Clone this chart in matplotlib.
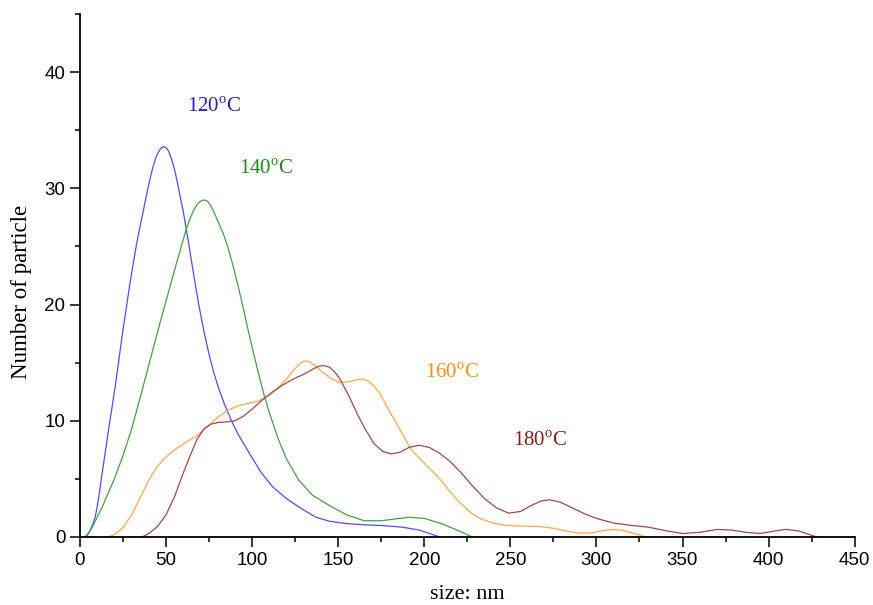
import matplotlib
matplotlib.use("Agg")
import matplotlib.pyplot as plt
from matplotlib.ticker import MultipleLocator

# Particle size distributions for four synthesis temperatures
size_120 = [3, 4.5, 6, 7.5, 9, 11, 13, 15, 17, 19, 21, 23, 25, 27, 29, 31, 33, 35, 37, 39, 41,
            42.5, 44, 45.5, 47, 48.5, 50, 51.5, 53, 55, 57, 60, 63, 66, 69, 72, 75, 78, 81, 84,
            88, 92, 98, 105, 112, 120, 128, 137, 145, 155, 165, 176, 187, 197, 203, 209]
count_120 = [0, 0.2, 0.6, 1.1, 1.8, 3.5, 5.6, 7.6, 9.6, 11.5, 13.5, 15.7, 17.8, 19.8, 21.8, 23.6,
             25.3, 26.8, 28.2, 29.7, 31.0, 31.9, 32.6, 33.1, 33.45, 33.6, 33.5, 33.2, 32.6, 31.6,
             30.2, 28.0, 25.4, 22.6, 20.0, 17.7, 15.7, 14.0, 12.6, 11.4, 10.0, 8.8, 7.3, 5.6, 4.3,
             3.3, 2.5, 1.7, 1.35, 1.15, 1.05, 0.98, 0.85, 0.6, 0.3, 0]

size_140 = [3, 5, 7, 9, 11, 13, 15, 20, 25, 30, 35, 40, 45, 50, 55, 60, 62, 64, 66, 68, 70, 72,
            74, 76, 78, 80, 83, 86, 89, 92, 95, 98, 101, 104, 107, 110, 115, 120, 127, 135, 145,
            155, 165, 175, 183, 191, 200, 210, 219, 228]
count_140 = [0, 0.35, 0.8, 1.4, 2.0, 2.6, 3.3, 5.0, 7.0, 9.3, 12.0, 14.8, 17.6, 20.3, 23.0, 25.6,
             26.6, 27.4, 28.1, 28.6, 28.9, 29.0, 28.9, 28.5, 27.9, 27.2, 26.2, 24.9, 23.3, 21.5,
             19.6, 17.6, 15.7, 13.9, 12.2, 10.7, 8.5, 6.7, 4.9, 3.6, 2.7, 1.9, 1.4, 1.4, 1.55, 1.7,
             1.6, 1.15, 0.6, 0]

size_160 = [16, 20, 25, 30, 35, 40, 45, 50, 56, 62, 68, 74, 80, 86, 92, 98, 104, 110, 115, 120, 125,
            128, 130.5, 133, 136, 140, 146, 151, 156, 161, 164, 167, 170, 174, 178, 183, 188, 192,
            197, 203, 209, 215, 221, 227, 233, 240, 247, 255, 267, 275, 283, 290, 297, 304, 310,
            316, 322, 329]
count_160 = [0, 0.2, 0.8, 1.9, 3.4, 4.9, 6.1, 6.9, 7.6, 8.2, 8.7, 9.5, 10.3, 10.9, 11.3, 11.5, 11.7,
             12.2, 12.8, 13.6, 14.5, 14.95, 15.15, 15.1, 14.8, 14.3, 13.6, 13.3, 13.35, 13.55,
             13.6, 13.45, 13.1, 12.4, 11.3, 10.0, 8.7, 7.6, 6.8, 5.9, 5.0, 3.9, 2.9, 2.1, 1.55,
             1.2, 1.0, 0.95, 0.9, 0.75, 0.5, 0.32, 0.35, 0.55, 0.65, 0.55, 0.3, 0]

size_180 = [36, 40, 45, 50, 55, 60, 64, 68, 72, 76, 80, 85, 90, 95, 100, 106, 112, 118, 124, 130,
            136, 139, 142, 145, 148, 151, 156, 161, 166, 171, 176, 181, 186, 191, 197, 203, 209,
            215, 221, 228, 235, 242, 249, 256, 262, 268, 273, 279, 286, 293, 300, 310, 320, 330,
            340, 350, 360, 370, 378, 387, 395, 403, 410, 418, 428]
count_180 = [0, 0.3, 0.9, 1.9, 3.5, 5.5, 7.0, 8.4, 9.3, 9.7, 9.85, 9.9, 10.0, 10.4, 11.0, 11.8, 12.5,
             13.1, 13.6, 14.0, 14.5, 14.7, 14.75, 14.6, 14.2, 13.6, 12.2, 10.6, 9.2, 8.0, 7.35,
             7.15, 7.3, 7.7, 7.9, 7.7, 7.2, 6.5, 5.6, 4.4, 3.3, 2.5, 2.05, 2.2, 2.7, 3.1, 3.2, 3.0,
             2.5, 2.0, 1.6, 1.2, 1.0, 0.85, 0.55, 0.3, 0.4, 0.65, 0.6, 0.4, 0.3, 0.5, 0.66, 0.5, 0]

series = [
    (size_120, count_120, "#4d4dff", "#2222aa", "120", 78, 37.0),
    (size_140, count_140, "#44a044", "#1e8a1e", "140", 108, 31.6),
    (size_160, count_160, "#ffa54a", "#ff8a1c", "160", 216, 14.1),
    (size_180, count_180, "#a04848", "#8b1a1a", "180", 267, 8.2),
]

plt.rcParams["mathtext.fontset"] = "custom"
plt.rcParams["mathtext.rm"] = "Liberation Serif"

fig = plt.figure(figsize=(8.73, 6.05), dpi=100)
ax = fig.add_axes([0.0916, 0.1124, 0.8874, 0.8645])

for x, y, line_color, text_color, temp, tx, ty in series:
    ax.plot(x, y, color=line_color, lw=0.9, solid_joinstyle="round")
    ax.text(tx, ty, temp + r"$^{\rm o}$C", color=text_color, fontsize=15,
            family="Liberation Serif", ha="center", va="center")

ax.set_xlim(0, 450)
ax.set_ylim(0, 45)
ax.xaxis.set_major_locator(MultipleLocator(50))
ax.xaxis.set_minor_locator(MultipleLocator(25))
ax.yaxis.set_major_locator(MultipleLocator(10))
ax.yaxis.set_minor_locator(MultipleLocator(5))

for side in ("top", "right"):
    ax.spines[side].set_visible(False)
for side in ("left", "bottom"):
    ax.spines[side].set_linewidth(1.3)

ax.tick_params(which="major", direction="out", length=7, width=1.1, labelsize=13.5)
ax.tick_params(which="minor", direction="out", length=3.5, width=1.1)
for lbl in ax.get_xticklabels() + ax.get_yticklabels():
    lbl.set_family("Liberation Sans")

ax.set_xlabel("size: nm", family="Liberation Serif", fontsize=16, labelpad=12)
ax.set_ylabel("Number of particle", family="Liberation Serif", fontsize=16.5)
ax.yaxis.set_label_coords(-0.062, 0.468)

fig.savefig("out.png", dpi=100)
